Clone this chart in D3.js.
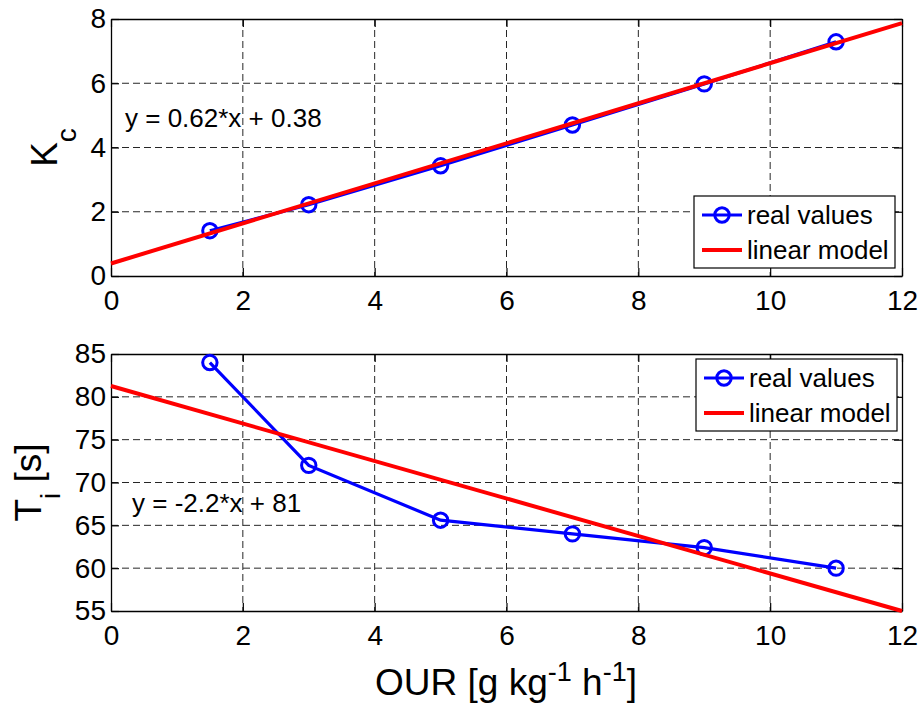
<!DOCTYPE html>
<html>
<head>
<meta charset="utf-8">
<script src="https://cdn.jsdelivr.net/npm/d3@7"></script>
<style>
  body { margin: 0; background: #fff; }
  text { font-family: Arial, "Liberation Sans", sans-serif; fill: #000; }
</style>
</head>
<body>
<div id="chart"></div>
<script>
// OUR values (x) shared by both panels
let ourValues = [1.5, 3, 5, 7, 9, 11];
// top panel: K_c
let kcValues = [1.41, 2.22, 3.43, 4.70, 5.98, 7.29];
let kcModelX = [0, 12];
let kcModelY = [0.39, 7.87];
let kcTicks = [0, 2, 4, 6, 8];
// bottom panel: T_i
let tiValues = [84.0, 72.0, 65.6, 64.0, 62.4, 60.0];
let tiModelX = [0, 12];
let tiModelY = [81.26, 55.0];
let tiTicks = [55, 60, 65, 70, 75, 80, 85];
let xTicks = [0, 2, 4, 6, 8, 10, 12];
let legendLabels = ["real values", "linear model"];

let svg = d3.select("#chart").append("svg")
  .attr("width", 920).attr("height", 706);

svg.append("rect").attr("width", 920).attr("height", 706).attr("fill", "#fff");

function drawPanel(opts) {
  let xScale = d3.scaleLinear().domain([0, 12]).range([111, 902]);
  let yScale = d3.scaleLinear().domain(opts.yDomain).range([opts.bottom, opts.top]);
  let g = svg.append("g");

  // dashed grid
  g.selectAll(".vgrid").data(xTicks.slice(1, -1)).enter().append("line")
    .attr("x1", d => xScale(d)).attr("x2", d => xScale(d))
    .attr("y1", opts.top).attr("y2", opts.bottom)
    .attr("stroke", "#262626").attr("stroke-width", 1).attr("stroke-dasharray", "7,4");
  g.selectAll(".hgrid").data(opts.yTicks.slice(1, -1)).enter().append("line")
    .attr("x1", 111).attr("x2", 902)
    .attr("y1", d => yScale(d)).attr("y2", d => yScale(d))
    .attr("stroke", "#262626").attr("stroke-width", 1).attr("stroke-dasharray", "7,4");

  // axes (ticks inward, box on)
  let bottomAxis = d3.axisBottom(xScale).tickValues(xTicks).tickSizeInner(-8).tickSizeOuter(0).tickPadding(14);
  let topAxis = d3.axisTop(xScale).tickValues(xTicks).tickSizeInner(-8).tickSizeOuter(0).tickFormat("");
  let leftAxis = d3.axisLeft(yScale).tickValues(opts.yTicks).tickSizeInner(-8).tickSizeOuter(0).tickPadding(14);
  let rightAxis = d3.axisRight(yScale).tickValues(opts.yTicks).tickSizeInner(-8).tickSizeOuter(0).tickFormat("");

  [[bottomAxis, "translate(0," + opts.bottom + ")"],
   [topAxis, "translate(0," + opts.top + ")"],
   [leftAxis, "translate(111,0)"],
   [rightAxis, "translate(902,0)"]].forEach(function(a) {
    let ax = g.append("g").attr("transform", a[1]).call(a[0]);
    ax.select(".domain").attr("stroke", "#000").attr("stroke-width", 1.3);
    ax.selectAll(".tick line").attr("stroke", "#000").attr("stroke-width", 1.2);
    ax.selectAll(".tick text").attr("font-size", 28).attr("font-family", "Arial, 'Liberation Sans', sans-serif").attr("fill", "#000");
  });
  g.selectAll(".tick text").filter(function() { return this.parentNode.parentNode.getAttribute("transform").indexOf("translate(111") === 0; })
    .attr("x", -5);

  let line = d3.line().x(d => xScale(d[0])).y(d => yScale(d[1]));

  let realPts = ourValues.map((x, i) => [x, opts.values[i]]);
  g.append("path").attr("d", line(realPts))
    .attr("fill", "none").attr("stroke", "#0000ff").attr("stroke-width", 3.2);
  g.selectAll(".marker").data(realPts).enter().append("circle")
    .attr("cx", d => xScale(d[0])).attr("cy", d => yScale(d[1])).attr("r", 7.2)
    .attr("fill", "none").attr("stroke", "#0000ff").attr("stroke-width", 3);

  let modelPts = opts.modelX.map((x, i) => [x, opts.modelY[i]]);
  g.append("path").attr("d", line(modelPts))
    .attr("fill", "none").attr("stroke", "#ff0000").attr("stroke-width", 4);

  // equation text
  g.append("text").attr("x", opts.eqX).attr("y", opts.eqY)
    .attr("font-size", 26).text(opts.equation);

  // legend
  let lg = g.append("g").attr("transform", "translate(" + opts.legendX + "," + opts.legendY + ")");
  lg.append("rect").attr("width", 201).attr("height", 72)
    .attr("fill", "#fff").attr("stroke", "#000").attr("stroke-width", 1.2);
  let rowY = [19, 54];
  lg.append("line").attr("x1", 8).attr("x2", 48).attr("y1", rowY[0]).attr("y2", rowY[0])
    .attr("stroke", "#0000ff").attr("stroke-width", 3.2);
  lg.append("circle").attr("cx", 28).attr("cy", rowY[0]).attr("r", 7.2)
    .attr("fill", "none").attr("stroke", "#0000ff").attr("stroke-width", 3);
  lg.append("line").attr("x1", 8).attr("x2", 48).attr("y1", rowY[1]).attr("y2", rowY[1])
    .attr("stroke", "#ff0000").attr("stroke-width", 4);
  lg.selectAll(".lbl").data(legendLabels).enter().append("text")
    .attr("x", 53).attr("y", (d, i) => rowY[i] + 9)
    .attr("font-size", 26).text(d => d);

  // y label
  let yl = svg.append("text")
    .attr("transform", "translate(" + opts.ylabX + "," + ((opts.top + opts.bottom) / 2) + ") rotate(-90)")
    .attr("text-anchor", "middle").attr("font-size", 37);
  opts.ylabel(yl);
}

drawPanel({
  top: 19, bottom: 276, yDomain: [0, 8], yTicks: kcTicks,
  values: kcValues, modelX: kcModelX, modelY: kcModelY,
  equation: "y = 0.62*x + 0.38", eqX: 125, eqY: 127,
  legendX: 694, legendY: 196, ylabX: 57,
  ylabel: function(t) {
    t.append("tspan").text("K");
    t.append("tspan").attr("font-size", 28).attr("dy", 19).text("c");
  }
});

drawPanel({
  top: 354, bottom: 611, yDomain: [55, 85], yTicks: tiTicks,
  values: tiValues, modelX: tiModelX, modelY: tiModelY,
  equation: "y = -2.2*x + 81", eqX: 132, eqY: 512,
  legendX: 696, legendY: 359, ylabX: 41,
  ylabel: function(t) {
    t.append("tspan").text("T");
    t.append("tspan").attr("font-size", 28).attr("dy", 19).text("i");
    t.append("tspan").attr("dy", -19).text(" [s]");
  }
});

// x label
let xl = svg.append("text").attr("x", 506).attr("y", 695)
  .attr("text-anchor", "middle").attr("font-size", 37);
xl.append("tspan").text("OUR [g kg");
xl.append("tspan").attr("font-size", 27).attr("dy", -14).text("-1");
xl.append("tspan").attr("dy", 14).text(" h");
xl.append("tspan").attr("font-size", 27).attr("dy", -14).text("-1");
xl.append("tspan").attr("dy", 14).text("]");
</script>
</body>
</html>
